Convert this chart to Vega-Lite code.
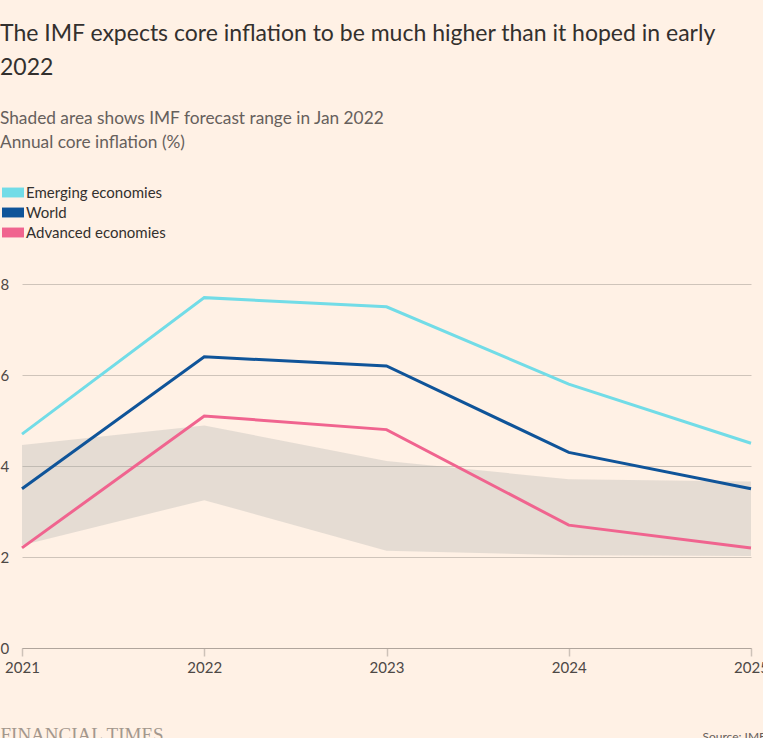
{
  "$schema": "https://vega.github.io/schema/vega-lite/v6.json",
  "width": 729,
  "height": 364,
  "autosize": {"type": "none"},
  "padding": {"left": 22, "top": 284, "right": 12, "bottom": 90},
  "background": "#fff1e5",
  "config": {
    "font": "Lato",
    "view": {"stroke": null},
    "axis": {"labelFont": "Lato", "titleFont": "Lato"}
  },
  "title": {
    "text": ["The IMF expects core inflation to be much higher than it hoped in early", "2022"],
    "subtitle": ["Shaded area shows IMF forecast range in Jan 2022", "Annual core inflation (%)"],
    "anchor": "start",
    "frame": "group",
    "dx": -22,
    "font": "Lato",
    "fontSize": 23,
    "fontWeight": "normal",
    "lineHeight": 34,
    "color": "#33302e",
    "subtitleFont": "Lato",
    "subtitleFontSize": 17.3,
    "subtitleLineHeight": 24,
    "subtitleColor": "#66605c",
    "subtitlePadding": 30,
    "offset": 34
  },
  "datasets": {
    "range": [
      {"year": 2021, "low": 2.26, "high": 4.46},
      {"year": 2022, "low": 3.25, "high": 4.89},
      {"year": 2023, "low": 2.14, "high": 4.11},
      {"year": 2024, "low": 2.04, "high": 3.71},
      {"year": 2025, "low": 2.02, "high": 3.66}
    ],
    "lines": [
      {"year": 2021, "series": "Emerging economies", "value": 4.7},
      {"year": 2022, "series": "Emerging economies", "value": 7.7},
      {"year": 2023, "series": "Emerging economies", "value": 7.5},
      {"year": 2024, "series": "Emerging economies", "value": 5.8},
      {"year": 2025, "series": "Emerging economies", "value": 4.5},
      {"year": 2021, "series": "World", "value": 3.5},
      {"year": 2022, "series": "World", "value": 6.4},
      {"year": 2023, "series": "World", "value": 6.2},
      {"year": 2024, "series": "World", "value": 4.3},
      {"year": 2025, "series": "World", "value": 3.5},
      {"year": 2021, "series": "Advanced economies", "value": 2.2},
      {"year": 2022, "series": "Advanced economies", "value": 5.1},
      {"year": 2023, "series": "Advanced economies", "value": 4.8},
      {"year": 2024, "series": "Advanced economies", "value": 2.7},
      {"year": 2025, "series": "Advanced economies", "value": 2.2}
    ]
  },
  "encoding": {
    "x": {
      "field": "year",
      "type": "quantitative",
      "scale": {"domain": [2021, 2025], "nice": false, "zero": false},
      "axis": {
        "values": [2021, 2022, 2023, 2024, 2025],
        "format": "d",
        "grid": false,
        "domain": true,
        "domainColor": "#b0a59c",
        "domainWidth": 1,
        "ticks": true,
        "tickSize": 8,
        "tickWidth": 1.5,
        "tickColor": "#cdc2b8",
        "labelFlush": false,
        "labelFontSize": 15,
        "labelColor": "#4d4845",
        "labelPadding": 4,
        "title": "Source: IMF",
        "titleFont": "Lato",
        "titleFontSize": 12,
        "titleFontWeight": "normal",
        "titleColor": "#66605c",
        "titleAlign": "left",
        "titleAnchor": null,
        "titleBaseline": "alphabetic",
        "titleX": 680,
        "titleY": 92
      }
    },
    "y": {
      "type": "quantitative",
      "scale": {"domain": [0, 8], "nice": false},
      "axis": {
        "values": [0, 2, 4, 6, 8],
        "grid": true,
        "gridColor": "#cfc4ba",
        "gridWidth": 1,
        "domain": false,
        "ticks": false,
        "labelAlign": "left",
        "labelBaseline": "middle",
        "labelPadding": 22,
        "labelFontSize": 15,
        "labelColor": "#4d4845",
        "title": "FINANCIAL TIMES",
        "titleFont": "Liberation Serif",
        "titleFontSize": 19,
        "titleFontWeight": "normal",
        "titleColor": "#a3978d",
        "titleAngle": 0,
        "titleAlign": "left",
        "titleBaseline": "alphabetic",
        "titleX": -22,
        "titleY": 456
      }
    }
  },
  "layer": [
    {
      "data": {"name": "range"},
      "mark": {"type": "area", "fill": "#97a1a1", "opacity": 0.25},
      "encoding": {
        "y": {"field": "high", "type": "quantitative"},
        "y2": {"field": "low"}
      }
    },
    {
      "data": {"name": "lines"},
      "mark": {"type": "line", "strokeWidth": 3, "strokeJoin": "miter"},
      "encoding": {
        "y": {"field": "value", "type": "quantitative"},
        "color": {
          "field": "series",
          "type": "nominal",
          "scale": {
            "domain": ["Emerging economies", "World", "Advanced economies"],
            "range": ["#72dce7", "#0f5499", "#f0648f"]
          },
          "legend": {
            "orient": "none",
            "legendX": -16.5,
            "legendY": -99,
            "title": null,
            "symbolType": "M-2,-0.9H2V0.9H-2Z",
            "symbolSize": 121,
            "symbolStrokeWidth": 0,
            "symbolOpacity": 1,
            "labelFont": "Lato",
            "labelFontSize": 15,
            "labelColor": "#33302e",
            "labelOffset": 5.5,
            "rowPadding": 4,
            "padding": 0,
            "encode": {
              "symbols": {
                "update": {
                  "fill": {"scale": "color", "field": "value"},
                  "fillOpacity": {"value": 1}
                }
              }
            }
          }
        }
      }
    }
  ]
}
